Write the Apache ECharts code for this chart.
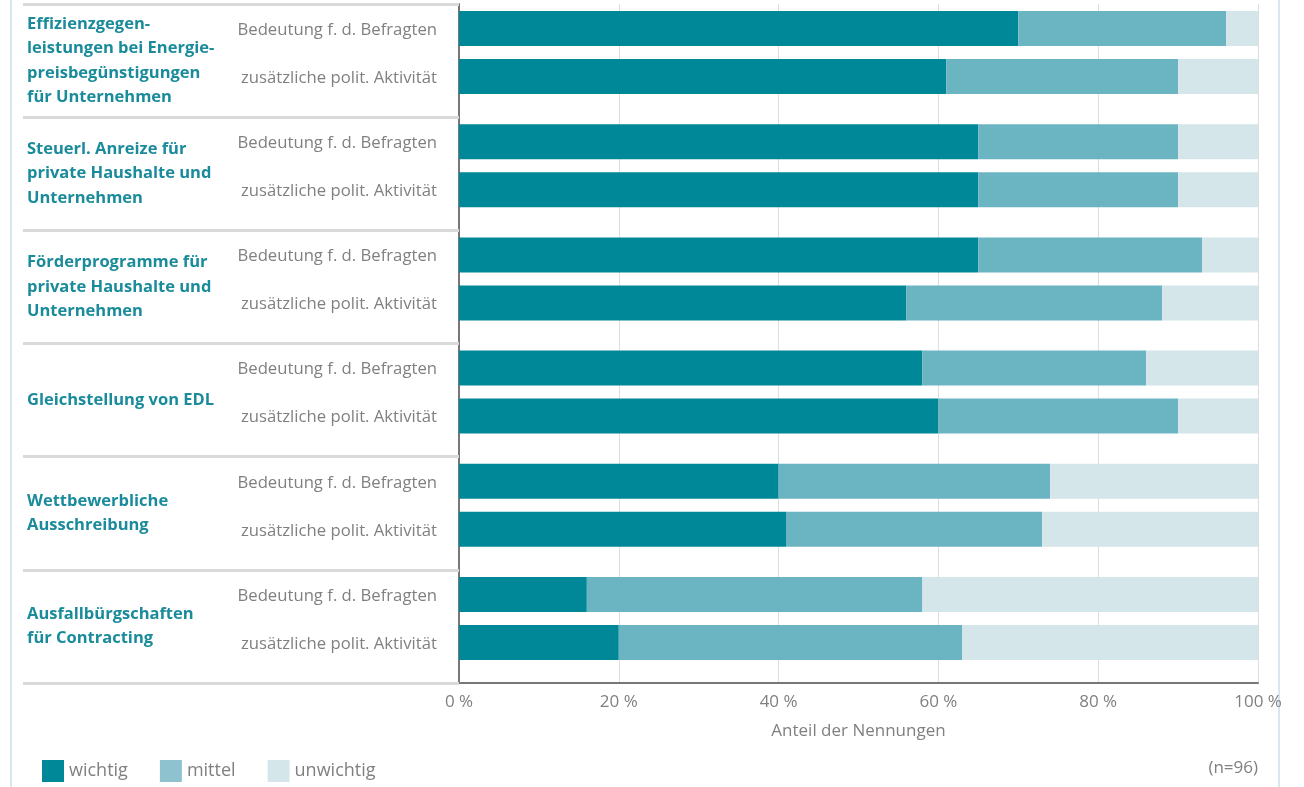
<!DOCTYPE html>
<html><head><meta charset="utf-8">
<script src="https://cdn.jsdelivr.net/npm/echarts@6/dist/echarts.min.js"></script>
<style>html,body{margin:0;padding:0;background:#fff}#c{width:1304px;height:787px}</style>
</head><body><div id="c"></div>
<script>
const groups = ["Effizienzgegen-\nleistungen bei Energie-\npreisbegünstigungen\nfür Unternehmen","Steuerl. Anreize für\nprivate Haushalte und\nUnternehmen","Förderprogramme für\nprivate Haushalte und\nUnternehmen","Gleichstellung von EDL","Wettbewerbliche\nAusschreibung","Ausfallbürgschaften\nfür Contracting"];
const subLabels = ["Bedeutung f. d. Befragten","zusätzliche polit. Aktivität"];
// Bedeutung f. d. Befragten
const wichtigBedeutung   = [70,65,65,58,40,16];
const mittelBedeutung    = [26,25,28,28,34,42];
const unwichtigBedeutung = [4,10,7,14,26,42];
// zusätzliche polit. Aktivität
const wichtigAktivitaet   = [61,65,56,60,41,20];
const mittelAktivitaet    = [29,25,32,30,32,43];
const unwichtigAktivitaet = [10,10,12,10,27,37];
const xTicks = [0,20,40,60,80,100];

const FONT = 'Open Sans';
const GRAY = '#808080';
const C_W = '#008898', C_M = '#6bb4c1', C_U = '#d4e6ea';
const GAP = '37.14%';

function barSeries(name, stack, data, color, labelText){
  const s = {name, type:'bar', stack, barWidth:35, barGap:GAP, data, itemStyle:{color}};
  if (labelText) s.label = {show:true, position:'left', distance:22, offset:[0,1.5], color:GRAY, fontSize:16.7, fontFamily:FONT, formatter:()=>labelText};
  return s;
}

const chart = echarts.init(document.getElementById('c'));
chart.setOption({
  animation:false,
  textStyle:{fontFamily:FONT},
  grid:{left:459,right:46,top:4,bottom:104,containLabel:false},
  legend:{left:37,top:755,itemWidth:22,itemHeight:22,itemGap:32,icon:'rect',
    textStyle:{color:GRAY,fontSize:18,fontFamily:FONT},
    data:[{name:'wichtig'},{name:'mittel',itemStyle:{color:'#8ec2ce'}},{name:'unwichtig'}]},
  xAxis:{type:'value',min:xTicks[0],max:xTicks[xTicks.length-1],interval:20,
    axisLine:{show:true,lineStyle:{color:'#777',width:2}},
    axisTick:{show:false},
    splitLine:{lineStyle:{color:'#dedede',width:1}},
    axisLabel:{formatter:'{value} %',color:GRAY,fontSize:17,margin:11,fontFamily:FONT},
    name:'Anteil der Nennungen',nameLocation:'middle',nameGap:40,
    nameTextStyle:{color:GRAY,fontSize:17,fontFamily:FONT}},
  yAxis:{type:'category',data:groups,inverse:true,
      axisLine:{show:true,lineStyle:{color:'#777',width:2}},
      axisTick:{show:true,length:436,lineStyle:{color:'#d9d9d9',width:3}},
      axisLabel:{color:'#1a8b9b',fontSize:16.5,fontWeight:'bold',align:'left',margin:432,lineHeight:24.5,fontFamily:FONT}},
  series:[
    barSeries('wichtig','bed',wichtigBedeutung,C_W,subLabels[0]),
    barSeries('mittel','bed',mittelBedeutung,C_M),
    barSeries('unwichtig','bed',unwichtigBedeutung,C_U),
    barSeries('wichtig','akt',wichtigAktivitaet,C_W,subLabels[1]),
    barSeries('mittel','akt',mittelAktivitaet,C_M),
    barSeries('unwichtig','akt',unwichtigAktivitaet,C_U),
    {name:'_spacer',type:'bar',stack:'spacer',barWidth:3,barGap:GAP,data:groups.map(()=>null),silent:true}
  ],
  graphic:[
    {type:'line',shape:{x1:11,y1:0,x2:11,y2:787},style:{stroke:'#d6e8ee',lineWidth:2},silent:true},
    {type:'line',shape:{x1:1279,y1:0,x2:1279,y2:787},style:{stroke:'#d6e8ee',lineWidth:2},silent:true},
    {type:'text',right:46,top:760,style:{text:'(n=96)',fill:GRAY,fontSize:17,fontFamily:FONT}}
  ]
});
</script></body></html>
